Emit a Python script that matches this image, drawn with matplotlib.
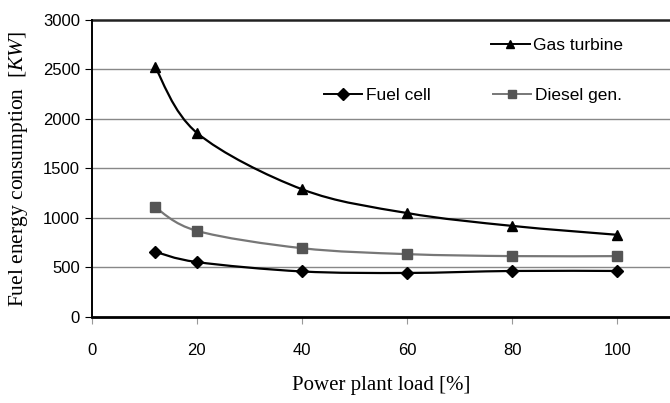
import numpy as np
import matplotlib.pyplot as plt
from matplotlib.path import Path
from matplotlib.patches import PathPatch
from matplotlib.lines import Line2D

# data
load = [12, 20, 40, 60, 80, 100]
gas_turbine = [2530, 1860, 1290, 1050, 920, 830]
diesel_gen = [1110, 870, 695, 635, 615, 615]
fuel_cell = [660, 555, 460, 445, 465, 465]

x_ticks = [0, 20, 40, 60, 80, 100]
y_ticks = [0, 500, 1000, 1500, 2000, 2500, 3000]

plt.rcParams['font.family'] = ['Liberation Sans', 'DejaVu Sans']
plt.rcParams['mathtext.fontset'] = 'custom'
plt.rcParams['mathtext.it'] = 'Liberation Serif:italic'
plt.rcParams['mathtext.rm'] = 'Liberation Serif'


def smooth_path(x, y, t=1 / 6):
    # Excel-like smoothed line: cubic bezier segments through the points
    x = np.asarray(x, float)
    y = np.asarray(y, float)
    verts = [(x[0], y[0])]
    codes = [Path.MOVETO]
    n = len(x)
    for i in range(n - 1):
        x0, y0 = (x[i - 1], y[i - 1]) if i > 0 else (x[i], y[i])
        x3, y3 = (x[i + 2], y[i + 2]) if i + 2 < n else (x[i + 1], y[i + 1])
        c1 = (x[i] + (x[i + 1] - x0) * t, y[i] + (y[i + 1] - y0) * t)
        c2 = (x[i + 1] - (x3 - x[i]) * t, y[i + 1] - (y3 - y[i]) * t)
        verts += [c1, c2, (x[i + 1], y[i + 1])]
        codes += [Path.CURVE4] * 3
    return Path(verts, codes)


fig = plt.figure(figsize=(6.7, 4.03), dpi=100)
ax = fig.add_axes([0.137, 0.2134, 0.863, 0.737])

series = [
    (gas_turbine, '^', 'black', 'black', 'Gas turbine'),
    (diesel_gen, 's', '#777777', '#555555', 'Diesel gen.'),
    (fuel_cell, 'D', 'black', 'black', 'Fuel cell'),
]
for vals, mk, lc, mc, name in series:
    ax.add_patch(PathPatch(smooth_path(load, vals), facecolor='none',
                           edgecolor=lc, linewidth=1.6, zorder=3))
    ax.plot(load, vals, linestyle='none', marker=mk, color=mc,
            markersize=7 if mk != 'D' else 6, zorder=4)

ax.set_xlim(0, 110)
ax.set_ylim(0, 3000)
ax.set_xticks(x_ticks)
ax.set_yticks(y_ticks)
ax.tick_params(axis='both', labelsize=12, length=5, color='#999999')
ax.tick_params(axis='y', color='black', length=5)
ax.tick_params(axis='x', pad=14)

for yv in y_ticks[1:-1]:
    ax.axhline(yv, color='#888888', linewidth=1.0, zorder=1)
ax.axhline(3000, color='#222222', linewidth=1.8, zorder=1, clip_on=False)

for s in ['top', 'right']:
    ax.spines[s].set_visible(False)
ax.spines['left'].set_linewidth(1.4)
ax.spines['bottom'].set_linewidth(2.0)

ax.set_xlabel('Power plant load [%]', family='Liberation Serif', fontsize=15, labelpad=13)
ax.set_ylabel(r'Fuel energy consumption  [$\mathit{KW}$]', family='Liberation Serif',
              fontsize=15.5, labelpad=9)

def handle(mk, lc, mc):
    return Line2D([], [], color=lc, marker=mk, markerfacecolor=mc, markeredgecolor=mc,
                  linewidth=1.4, markersize=6)

leg1 = ax.legend([handle('^', 'black', 'black')], ['Gas turbine'],
                 loc='center left', bbox_to_anchor=(0.664, 0.915), frameon=False,
                 fontsize=12.5, handlelength=2.2, handletextpad=0.2)
ax.add_artist(leg1)
ax.legend([handle('D', 'black', 'black'), handle('s', '#777777', '#555555')],
          ['Fuel cell', 'Diesel gen.'], loc='center left', bbox_to_anchor=(0.375, 0.745),
          ncol=2, frameon=False, fontsize=12.5, handlelength=2.2, handletextpad=0.2,
          columnspacing=3.6)

fig.savefig('out.png', dpi=100)
